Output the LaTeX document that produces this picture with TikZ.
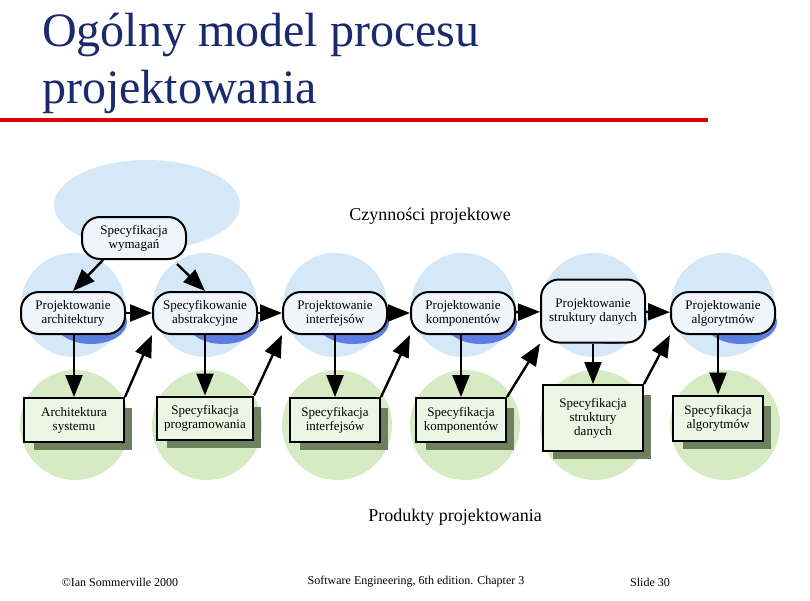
\documentclass[tikz,border=0pt]{standalone}
\usepackage{fontspec}
\setmainfont{Liberation Serif}
\usetikzlibrary{arrows.meta}
\definecolor{navy}{HTML}{1A2A6C}
\definecolor{bcirc}{HTML}{D4E8F8}
\definecolor{gcirc}{HTML}{D6EBC4}
\definecolor{darkg}{HTML}{6E8060}
\definecolor{crescent}{HTML}{5A7FE0}
\begin{document}
\begin{tikzpicture}[x=1pt,y=-1pt,
 act/.style={draw,line width=2pt,rounded corners=18pt,fill=white!60!bcirc,minimum width=104pt,minimum height=42pt,align=center,font=\fontsize{13}{14}\selectfont,inner sep=1pt},
 prod/.style={draw,line width=2pt,fill=white!55!gcirc,align=center,font=\fontsize{13}{14}\selectfont,inner sep=1pt},
 arr/.style={line width=2.4pt,-{Triangle[length=22pt,width=17pt]}}]
\useasboundingbox (0,0) rectangle (810,600);
\fill[white] (0,0) rectangle (810,600);
\node[font=\fontsize{48}{50}\selectfont,text=navy,anchor=west,inner sep=0pt] (t1) at (42,35) {Ogólny model procesu};
\node[font=\fontsize{48}{50}\selectfont,text=navy,anchor=west,inner sep=0pt] (t2) at (42,92) {projektowania};
\fill[red!85!black] (0,118) rectangle (708,122);
\fill[bcirc] (147,205) ellipse (93 and 45);
\foreach \x in {73,205,335,463,593,723}{
  \fill[gcirc] (\x+2,425) circle (55);
  \fill[bcirc] (\x,305) circle (52);
  \fill[crescent] (\x+18,322) ellipse (36 and 22);
}
\node[act] (sw) at (134,238) {Specyfikacja\\wymagań};
\node[act] (a1) at (73,313) {Projektowanie\\architektury};
\node[act] (a2) at (205,313) {Specyfikowanie\\abstrakcyjne};
\node[act] (a3) at (335,313) {Projektowanie\\interfejsów};
\node[act] (a4) at (463,313) {Projektowanie\\komponentów};
\node[act,minimum height=63pt] (a5) at (593,311) {Projektowanie\\struktury danych};
\node[act] (a6) at (723,313) {Projektowanie\\algorytmów};
\foreach \cx/\cy/\w/\h/\n/\t in {74/420/100/44/p1/{Architektura\\systemu},205/418/96/43/p2/{Specyfikacja\\programowania},335/420/90/44/p3/{Specyfikacja\\interfejsów},461/420/90/44/p4/{Specyfikacja\\komponentów},593/418/100/66/p5/{Specyfikacja\\struktury\\danych},718/418/90/45/p6/{Specyfikacja\\algorytmów}}{
  \fill[darkg] (\cx-\w/2+10,\cy-\h/2+10) rectangle (\cx+\w/2+8,\cy+\h/2+8);
  \node[prod,minimum width=\w,minimum height=\h] (\n) at (\cx,\cy) {\t};
}
\draw[arr] (sw.south west) ++(22,0) -- (a1.north);
\draw[arr] (sw.south east) ++(-10,4) -- (a2.north);
\foreach \a/\b in {a1/a2,a2/a3,a3/a4,a4/a5,a5/a6}{\draw[arr] (\a) -- (\b);}
\foreach \i in {1,...,6}{\draw[arr] (p\i.north |- a\i.south) -- (p\i.north);}
\draw[arr] (p1.north east) -- (a2.south west);
\draw[arr] (p2.north east) -- (a3.south west);
\draw[arr] (p3.north east) -- (a4.south west);
\draw[arr] (p4.north east) -- (a5.south west);
\draw[arr] (p5.north east) -- (a6.south west);
\node[font=\fontsize{18}{20}\selectfont] (c1) at (430,216) {Czynności projektowe};
\node[font=\fontsize{18}{20}\selectfont] (c2) at (455,517) {Produkty projektowania};
\node[font=\fontsize{12}{13}\selectfont] (f1) at (120,582) {©Ian Sommerville 2000};
\node[font=\fontsize{12}{13}\selectfont] (f2) at (416,582) {Software Engineering, 6th edition. Chapter 3};
\node[font=\fontsize{12}{13}\selectfont] (f3) at (650,582) {Slide  30};
\end{tikzpicture}
\end{document}
